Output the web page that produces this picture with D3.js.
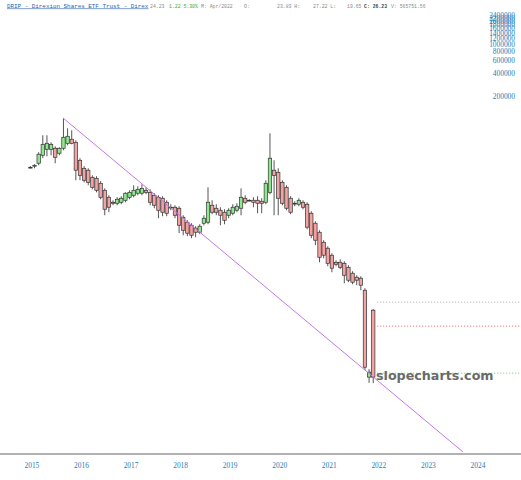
<!DOCTYPE html>
<html>
<head>
<meta charset="utf-8">
<script src="https://cdn.jsdelivr.net/npm/d3@7"></script>
<style>
  body { margin: 0; background: #fff; }
  svg { display: block; }
</style>
</head>
<body>
<div id="main"></div>
<script>
// monthly bars, May 2015 .. Apr 2022
const months = ['2015-05','2015-06','2015-07','2015-08','2015-09','2015-10','2015-11','2015-12',
  '2016-01','2016-02','2016-03','2016-04','2016-05','2016-06','2016-07','2016-08','2016-09','2016-10','2016-11','2016-12',
  '2017-01','2017-02','2017-03','2017-04','2017-05','2017-06','2017-07','2017-08','2017-09','2017-10','2017-11','2017-12',
  '2018-01','2018-02','2018-03','2018-04','2018-05','2018-06','2018-07','2018-08','2018-09','2018-10','2018-11','2018-12',
  '2019-01','2019-02','2019-03','2019-04','2019-05','2019-06','2019-07','2019-08','2019-09','2019-10','2019-11','2019-12',
  '2020-01','2020-02','2020-03','2020-04','2020-05','2020-06','2020-07','2020-08','2020-09','2020-10','2020-11','2020-12',
  '2021-01','2021-02','2021-03','2021-04','2021-05','2021-06','2021-07','2021-08','2021-09','2021-10','2021-11','2021-12',
  '2022-01','2022-02','2022-03','2022-04'];

const opens = [23300,24100,26400,33700,40500,40500,41800,35900,
  41800,48700,55100,50200,28900,22600,21300,17150,16600,14250,11500,9280,
  7960,7720,7960,8460,9280,9860,10500,10500,11500,10800,9860,9280,
  9000,7960,6830,6830,6620,5020,4310,3930,3590,3170,4180,4310,
  7260,6620,6230,5860,5340,5680,6230,6620,9000,8460,8460,8460,
  8210,7960,10800,21300,20000,14700,12600,9000,7720,7490,7960,7490,
  5680,4180,3170,2330,1940,1565,1260,1260,1220,1080,900,796,
  772,534,37.0,289];
const highs = [24100,25600,37000,62300,62300,50200,44400,43100,
  104900,77200,72600,53400,30800,24100,22600,18200,17700,15200,12200,9860,
  8460,9280,9570,10800,11500,13400,13000,13800,12600,11850,10500,9860,
  9570,8460,7490,7260,7040,5340,4580,4180,3810,4050,5340,12600,
  8460,7490,6830,6420,6620,7490,7720,12200,9860,8730,9280,9570,
  9000,15650,66200,28900,22600,15650,13400,9570,8210,9000,8460,7960,
  6040,4440,3370,2480,2060,1660,1340,1380,1300,1150,957,846,
  821,568,47.3,300];
const lows = [22600,22600,24800,30800,32700,33700,26400,33700,
  39300,45800,47200,15650,15650,14700,13400,11850,10800,8730,5340,5860,
  7260,7260,7490,7960,8730,9280,9860,9860,10200,7260,6620,4870,
  5180,5180,6230,4870,3080,2890,2810,2640,2720,2980,3930,4050,
  5510,5340,3930,4050,4870,5340,5860,5340,7490,8210,6830,5680,
  5680,7490,10200,5340,5340,7260,6230,5510,7040,7040,6420,3480,
  2640,2130,1260,1425,1115,928,1115,1020,662,683,642,623,
  534,45.8,31.0,30.8];
const closes = [23300,24800,34800,47200,48700,47200,31700,41800,
  58600,60400,48700,21300,18200,15650,14700,12600,11500,9280,6420,6830,
  7720,8730,9000,10500,10800,11500,11850,12200,10800,7960,7260,6230,
  5860,5680,6830,5340,3930,3370,3080,2890,3170,3810,4870,7960,
  5860,5860,5340,4580,6230,6830,7040,9280,7960,8460,7960,7720,
  7720,14250,30800,18200,9000,7720,6620,5860,7720,8460,6830,3700,
  2890,2480,1470,1565,1220,1050,1185,1080,846,726,683,726,
  623,50.2,43.1,37.0];

const yearLabels = ['2015','2016','2017','2018','2019','2020','2021','2022','2023','2024'];
const priceTicks = [200000,400000,600000,800000,1000000,1200000,1400000,1600000,1800000,2000000,2200000,2400000];

// trend line anchors [month index from Jan 2015, price]
const trendPoints = [[12, 104900], [108.7, 3.73]];
// dotted level lines
const levelValues = [370, 177, 41.8];

const w = 521, h = 480;
const axisY = 454;

const svg = d3.select('#main').append('svg')
  .attr('width', w).attr('height', h)
  .style('font-family', '"Liberation Serif", serif');

const monthIndex = s => (+s.slice(0, 4) - 2015) * 12 + (+s.slice(5, 7) - 1);

const xScale = d3.scaleLinear().domain([0, 120]).range([13.9, 13.9 + 4.13 * 120]);
const yScale = d3.scaleLog().domain([200000, 2400000]).range([97.3, 16.4]);

const bars = months.map((m, i) => ({
  i: monthIndex(m), o: opens[i], h: highs[i], l: lows[i], c: closes[i]
}));

// header
const header = svg.append('g').style('font-family', '"Liberation Mono", monospace');
header.append('text').attr('x', 7).attr('y', 7.5).attr('fill', '#2b5cab')
  .style('font-size', '5.9px')
  .style('text-decoration', 'underline').text('DRIP - Direxion Shares ETF Trust - Direx');
const headParts = [
  [150, '24.23', '#888', 'normal'], [169, '1.22 5.30%', '#3a3', 'normal'],
  [201, 'M: Apr/2022', '#888', 'normal'], [244, 'O:', '#888', 'normal'],
  [277, '23.83 H:', '#888', 'normal'], [313, '27.22 L:', '#888', 'normal'],
  [347, '19.65', '#888', 'normal'], [364, 'C: 26.23', '#444', 'bold'],
  [391, 'V: 565751.56', '#888', 'normal']
];
headParts.forEach(p => {
  header.append('text').attr('x', p[0]).attr('y', 7.5).attr('fill', p[2])
    .style('font-size', '4.8px').style('font-weight', p[3]).text(p[1]);
});

// price labels
svg.append('g').selectAll('text')
  .data(priceTicks).enter().append('text')
  .attr('x', 515).attr('y', d => yScale(d))
  .attr('text-anchor', 'end').attr('dominant-baseline', 'middle')
  .attr('fill', '#2a7ab8').style('font-size', '7.4px')
  .text(d => d);

// level lines
const levelColors = ['#aaa', '#e46060', '#6c6'];
svg.append('g').selectAll('line')
  .data(levelValues).enter().append('line')
  .attr('x1', xScale(87) + 4).attr('x2', w)
  .attr('y1', d => yScale(d)).attr('y2', d => yScale(d))
  .attr('stroke', (d, i) => levelColors[i]).attr('stroke-width', 1)
  .attr('stroke-dasharray', '1,2');

// candles
const cw = 3.4;
const g = svg.append('g');
g.selectAll('line.wick').data(bars).enter().append('line')
  .attr('class', 'wick')
  .attr('x1', d => xScale(d.i)).attr('x2', d => xScale(d.i))
  .attr('y1', d => yScale(d.h)).attr('y2', d => yScale(d.l))
  .attr('stroke', '#555').attr('stroke-width', 1);
g.selectAll('rect').data(bars).enter().append('rect')
  .attr('x', d => xScale(d.i) - cw / 2)
  .attr('y', d => yScale(Math.max(d.o, d.c)))
  .attr('width', cw)
  .attr('height', d => Math.max(0.8, Math.abs(yScale(d.o) - yScale(d.c))))
  .attr('fill', d => d.c > d.o ? '#8ee88e' : d.c < d.o ? '#f4a3a3' : '#222')
  .attr('stroke', '#333').attr('stroke-width', 0.7);

// trend line
svg.append('clipPath').attr('id', 'plot').append('rect')
  .attr('x', 0).attr('y', 0).attr('width', w).attr('height', axisY);
svg.append('line')
  .attr('clip-path', 'url(#plot)')
  .attr('x1', xScale(trendPoints[0][0])).attr('y1', yScale(trendPoints[0][1]))
  .attr('x2', xScale(trendPoints[1][0])).attr('y2', yScale(trendPoints[1][1]))
  .attr('stroke', '#c377e8').attr('stroke-width', 1);

// x axis
svg.append('line').attr('x1', 0).attr('x2', w).attr('y1', axisY).attr('y2', axisY)
  .attr('stroke', '#999').attr('stroke-width', 1.5);
svg.append('g').selectAll('text')
  .data(yearLabels).enter().append('text')
  .attr('x', d => xScale((+d - 2015) * 12) + 18)
  .attr('y', 466)
  .attr('text-anchor', 'middle').attr('dominant-baseline', 'middle')
  .attr('fill', '#2a7ab8').style('font-size', '7.4px')
  .text(d => d);

// watermark
svg.append('text').attr('x', 376).attr('y', 380)
  .style('font-family', '"DejaVu Sans", sans-serif').style('font-weight', 'bold')
  .style('font-size', '12.7px').attr('fill', '#6a6a6a')
  .text('slopecharts.com');
</script>
</body>
</html>
